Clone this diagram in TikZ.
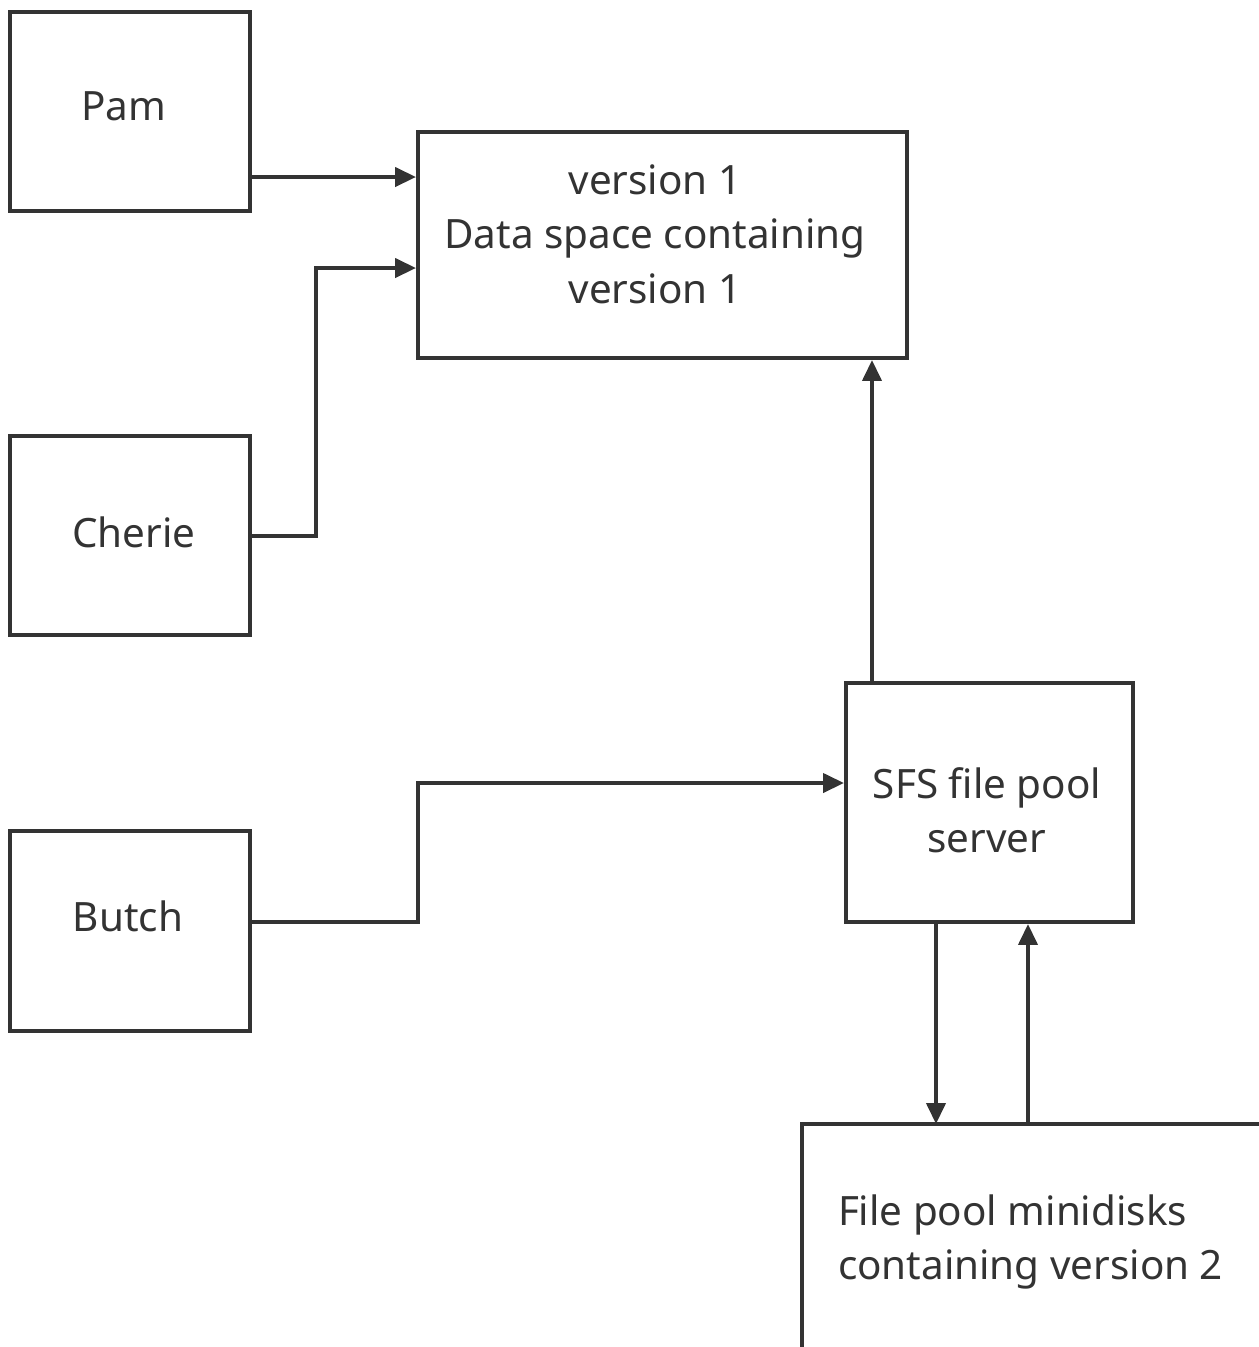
\documentclass[tikz,border=0pt]{standalone}
\usepackage{fontspec}
\setmainfont{Noto Sans}
\usetikzlibrary{arrows.meta}
\definecolor{ink}{HTML}{333333}
\begin{document}
\begin{tikzpicture}[x=0.02cm,y=-0.02cm,
  line width=0.08cm, draw=ink,
  box/.style={draw=ink, line width=0.08cm, rectangle, inner sep=0pt},
  lbl/.style={text=ink, font=\fontsize{23}{31}\selectfont, align=center, inner sep=0pt},
  arr/.style={draw=ink, line width=0.08cm, -{Triangle[length=0.42cm,width=0.38cm]}}]
\useasboundingbox (0,0) rectangle (1259,1347);
\node[box, minimum width=4.8cm, minimum height=3.98cm] (pam) at (130,111.5) {};
\node[lbl] (pamtxt) at (124,106) {Pam};
\node[box, minimum width=4.8cm, minimum height=3.98cm] (cherie) at (130,535.5) {};
\node[lbl] (cherietxt) at (134,532) {Cherie};
\node[box, minimum width=4.8cm, minimum height=4cm] (butch) at (130,931) {};
\node[lbl] (butchtxt) at (128,916) {Butch};
\node[box, minimum width=9.78cm, minimum height=4.52cm] (data) at (662.5,245) {};
\node[lbl] (datatxt) at (655,234) {version 1\\Data space containing\\version 1};
\node[box, minimum width=5.74cm, minimum height=4.78cm] (sfs) at (989.5,802.5) {};
\node[lbl] (sfstxt) at (987,810) {SFS file pool\\server};
\coordinate (disktl) at (802,1124);
\coordinate (disktr) at (1262,1124);
\coordinate (diskbl) at (802,1350);
\draw[ink, line width=0.08cm] (disktr) -- (disktl) -- (diskbl);
\node[lbl, align=left, anchor=west] (disktxt) at (836,1242) {File pool minidisks\\containing version 2};
\draw[arr] (pam.east |- 0,177) -- (data.west |- 0,177);
\draw[arr] (cherie.east) -| (316,268) -- (data.west |- 0,268);
\draw[arr] (butch.east |- 0,922) -| (418,783) -- (sfs.west |- 0,783);
\draw[arr] (sfs.north -| 872,0) -- (data.south -| 872,0);
\draw[arr] (sfs.south -| 936,0) -- (disktl -| 936,0);
\draw[arr] (disktl -| 1028,0) -- (sfs.south -| 1028,0);
\end{tikzpicture}
\end{document}
